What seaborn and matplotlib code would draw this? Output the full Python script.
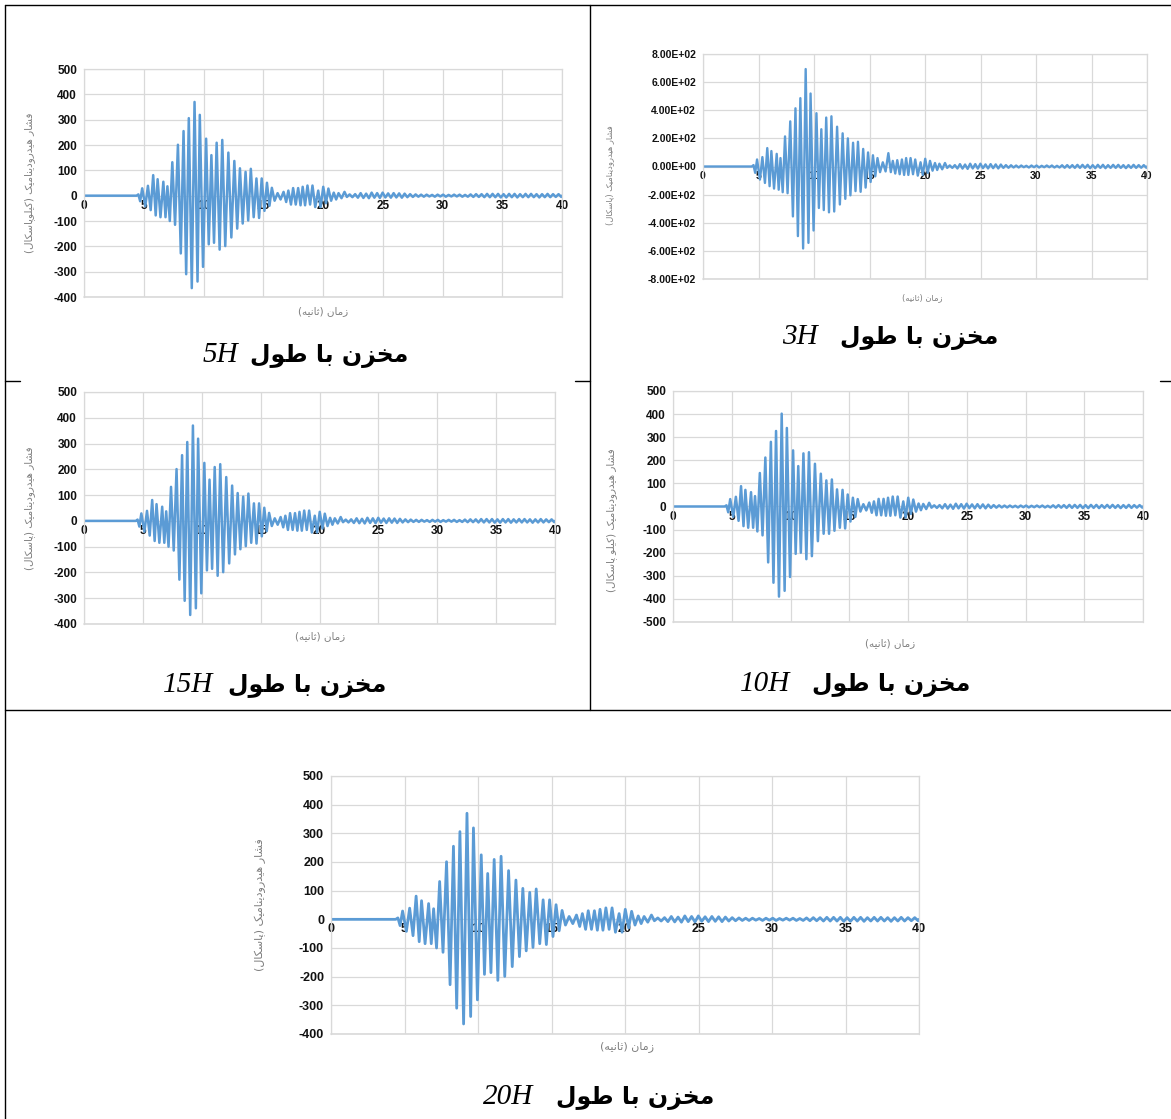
import matplotlib
matplotlib.use("Agg")
import matplotlib.pyplot as plt
from matplotlib.lines import Line2D
import seaborn as sns

W, H = 1171, 1119

# time of each extremum (s), shared by all tanks
t_main = [0.00, 4.40, 4.55, 4.70, 4.87, 5.13, 5.35, 5.58, 5.79, 6.00,
          6.16, 6.40, 6.64, 6.82, 6.98, 7.18, 7.39, 7.62, 7.86, 8.10,
          8.33, 8.55, 8.77, 9.02, 9.25, 9.50, 9.69, 9.96, 10.22, 10.44,
          10.66, 10.88, 11.10, 11.35, 11.57, 11.82, 12.08, 12.33, 12.58, 12.82,
          13.05, 13.28, 13.52, 13.74, 13.96, 14.20, 14.43, 14.65, 14.87, 15.10,
          15.31, 15.52, 15.72, 15.95, 16.20, 16.45, 16.70, 16.92, 17.10, 17.32,
          17.50, 17.72, 17.92, 18.12, 18.30, 18.50, 18.70, 18.92, 19.12, 19.35,
          19.60, 19.80, 20.02, 20.25, 20.45, 20.68, 20.90, 21.10, 21.30, 21.55,
          21.80, 22.00]
t_tail = [22.23, 22.46, 22.69, 22.92, 23.15, 23.38, 23.61, 23.84, 24.07, 24.30, 24.53, 24.76, 24.99,
          25.22, 25.45, 25.68, 25.91, 26.14, 26.37, 26.60, 26.83, 27.06, 27.29, 27.52, 27.75, 27.98,
          28.21, 28.44, 28.67, 28.90, 29.13, 29.36, 29.59, 29.82, 30.05, 30.28, 30.51, 30.74, 30.97,
          31.20, 31.43, 31.66, 31.89, 32.12, 32.35, 32.58, 32.81, 33.04, 33.27, 33.50, 33.73, 33.96,
          34.19, 34.42, 34.65, 34.88, 35.11, 35.34, 35.57, 35.80, 36.03, 36.26, 36.49, 36.72, 36.95,
          37.18, 37.41, 37.64, 37.87, 38.10, 38.33, 38.56, 38.79, 39.02, 39.25, 39.48, 39.71, 39.94,
          40.00]

# pressure at the extrema
main_5h = [0, 0, 5, -22, 29, -42, 39, -57, 81, -78,
           65, -85, 55, -85, 37, -100, 132, -115, 201, -228,
           255, -310, 306, -365, 370, -339, 319, -281, 225, -192,
           160, -186, 209, -213, 220, -199, 170, -165, 137, -130,
           108, -110, 94, -98, 106, -85, 68, -88, 68, -60,
           51, -40, 31, -20, 10, -15, 15, -25, 20, -35,
           30, -35, 30, -38, 35, -38, 40, -35, 40, -45,
           20, -45, 35, -30, 28, -20, 12, -15, 10, -10,
           15, -5]
main_10h = [0, 0, 5, -25, 32, -45, 42, -62, 88, -85,
            72, -92, 62, -92, 45, -108, 145, -125, 212, -242,
            280, -330, 327, -390, 402, -365, 340, -305, 243, -205,
            175, -200, 230, -228, 235, -215, 185, -150, 142, -118,
            113, -118, 117, -105, 74, -92, 72, -95, 52, -65,
            38, -45, 32, -22, 10, -17, 17, -27, 22, -38,
            33, -38, 33, -40, 38, -40, 43, -38, 43, -48,
            22, -48, 38, -32, 30, -22, 13, -16, 11, -11,
            16, -5]
main_3h = [0, 0, 10, -45, 50, -93, 67, -117, 131, -140,
           110, -157, 90, -165, 60, -183, 214, -190, 321, -355,
           414, -495, 486, -583, 693, -543, 519, -455, 379, -295,
           265, -310, 348, -326, 357, -320, 283, -270, 236, -230,
           200, -205, 169, -175, 176, -180, 125, -150, 100, -110,
           80, -70, 60, -40, 30, -35, 95, -40, 40, -50,
           45, -55, 50, -60, 60, -60, 60, -55, 50, -65,
           30, -60, 55, -45, 40, -30, 25, -25, 20, -20,
           25, -10]
tail_kpa = [5, -6, 6, -8, 10, -9, 8, -10, 12, -8, 10, -9, 12,
            -7, 9, -8, 10, -7, 9, -8, 8, -6, 6, -5, 5, -4,
            4, -4, 4, -3, 3, -4, 4, -3, 4, -4, 3, -3, 4,
            -3, 4, -4, 3, -4, 5, -5, 6, -5, 6, -6, 7, -6,
            7, -6, 7, -7, 6, -7, 7, -6, 7, -7, 6, -6, 7,
            -6, 7, -6, 6, -7, 6, -6, 7, -6, 6, -5, 6, -5,
            0]
tail_3h = [8, -10, 10, -14, 17, -15, 14, -17, 20, -14, 17, -15, 20,
           -12, 15, -14, 17, -12, 15, -14, 14, -10, 10, -9, 9, -7,
           7, -7, 7, -5, 5, -7, 7, -5, 7, -7, 5, -5, 7,
           -5, 7, -7, 5, -7, 9, -9, 10, -9, 10, -10, 12, -10,
           12, -10, 12, -12, 10, -12, 12, -10, 12, -12, 10, -10, 12,
           -10, 12, -10, 10, -12, 10, -10, 12, -10, 10, -9, 10, -9,
           0]

x_ticks = [0, 5, 10, 15, 20, 25, 30, 35, 40]

ylab_base = "فشار هیدرودینامیک "
xlab_text = "زمان (ثانیه)"
title_text = "مخزن با طول"

# Persian letters -> (isolated, final, initial, medial) presentation forms
FA_FORMS = {
    "ا": ("\uFE8D", "\uFE8E", None, None),
    "ب": ("\uFE8F", "\uFE90", "\uFE91", "\uFE92"),
    "پ": ("\uFB56", "\uFB57", "\uFB58", "\uFB59"),
    "ث": ("\uFE99", "\uFE9A", "\uFE9B", "\uFE9C"),
    "خ": ("\uFEA5", "\uFEA6", "\uFEA7", "\uFEA8"),
    "د": ("\uFEA9", "\uFEAA", None, None),
    "ر": ("\uFEAD", "\uFEAE", None, None),
    "ز": ("\uFEAF", "\uFEB0", None, None),
    "س": ("\uFEB1", "\uFEB2", "\uFEB3", "\uFEB4"),
    "ش": ("\uFEB5", "\uFEB6", "\uFEB7", "\uFEB8"),
    "ط": ("\uFEC1", "\uFEC2", "\uFEC3", "\uFEC4"),
    "ف": ("\uFED1", "\uFED2", "\uFED3", "\uFED4"),
    "ک": ("\uFB8E", "\uFB8F", "\uFB90", "\uFB91"),
    "ل": ("\uFEDD", "\uFEDE", "\uFEDF", "\uFEE0"),
    "م": ("\uFEE1", "\uFEE2", "\uFEE3", "\uFEE4"),
    "ن": ("\uFEE5", "\uFEE6", "\uFEE7", "\uFEE8"),
    "ه": ("\uFEE9", "\uFEEA", "\uFEEB", "\uFEEC"),
    "و": ("\uFEED", "\uFEEE", None, None),
    "ی": ("\uFBFC", "\uFBFD", "\uFBFE", "\uFBFF"),
}


def fa(text):
    # join letters and lay them out right-to-left, matplotlib does no shaping
    out = []
    for i, c in enumerate(text):
        if c not in FA_FORMS:
            out.append(c)
            continue
        prev = text[i - 1] if i > 0 else ""
        nxt = text[i + 1] if i + 1 < len(text) else ""
        iso, fin, ini, med = FA_FORMS[c]
        j_prev = prev in FA_FORMS and FA_FORMS[prev][2] is not None
        j_next = nxt in FA_FORMS and ini is not None
        if j_prev and j_next:
            out.append(med)
        elif j_prev:
            out.append(fin)
        elif j_next:
            out.append(ini)
        else:
            out.append(iso)
    return "".join(out)[::-1].translate(str.maketrans("()", ")("))


sns.set_style("white")
plt.rcParams["font.family"] = ["DejaVu Sans"]
plt.rcParams["text.color"] = "black"

fig = plt.figure(figsize=(W / 100, H / 100), dpi=100)


def px_text(x, y, s, **kw):
    fig.text(x / W, 1 - y / H, s, **kw)


panels = [
    dict(tag="5H", box=(84, 69, 562, 297), vals=main_5h + tail_kpa, ylim=(-400, 500), step=100,
         sci=False, unit="(کیلوپاسکال)", ylab=(30, 183), xlab=(323, 311), title=(238, 250, 355),
         fs=8.5, xfs=8.5, lfs=7.5, lw=1.8),
    dict(tag="3H", box=(703, 54, 1147, 279), vals=main_3h + tail_3h, ylim=(-800, 800), step=200,
         sci=True, unit="(پاسکال)", ylab=(610, 175), xlab=(922, 298), title=(818, 840, 337),
         fs=7.5, xfs=7.5, lfs=6, lw=1.7),
    dict(tag="15H", box=(84, 392, 555, 624), vals=main_5h + tail_kpa, ylim=(-400, 500), step=100,
         sci=False, unit="(پاسکال)", ylab=(30, 508), xlab=(320, 636), title=(213, 228, 685),
         fs=8.5, xfs=8.5, lfs=7.5, lw=1.8),
    dict(tag="10H", box=(673, 391, 1143, 622), vals=main_10h + tail_kpa, ylim=(-500, 500), step=100,
         sci=False, unit="(کیلو پاسکال)", ylab=(612, 520), xlab=(890, 643), title=(790, 812, 684),
         fs=8.5, xfs=8.5, lfs=7.5, lw=1.8),
    dict(tag="20H", box=(331, 776, 919, 1034), vals=main_5h + tail_kpa, ylim=(-400, 500), step=100,
         sci=False, unit="(پاسکال)", ylab=(260, 905), xlab=(627, 1047), title=(533, 556, 1097),
         fs=9, xfs=9, lfs=8, lw=2.0),
]

grid_c = "#d9d9d9"
line_c = "#5b9bd5"
label_c = "#7f7f7f"

for p in panels:
    x0, y0, x1, y1 = p["box"]
    ax = fig.add_axes([x0 / W, 1 - y1 / H, (x1 - x0) / W, (y1 - y0) / H])
    t_all = t_main + t_tail
    n = min(len(t_all), len(p["vals"]))
    sns.lineplot(x=t_all[:n], y=p["vals"][:n], ax=ax, color=line_c, linewidth=p["lw"],
                 sort=False, estimator=None)
    lo, hi = p["ylim"]
    ax.set_xlim(0, 40)
    ax.set_ylim(lo, hi)
    yt = list(range(lo, hi + 1, p["step"]))
    ax.set_yticks(yt)
    if p["sci"]:
        ax.set_yticklabels([f"{v:.2E}" for v in yt])
    else:
        ax.set_yticklabels([str(v) for v in yt])
    ax.set_xticks(x_ticks)
    ax.grid(True, color=grid_c, linewidth=0.9)
    ax.set_axisbelow(True)
    for s in ["top", "left", "right"]:
        ax.spines[s].set_color(grid_c)
        ax.spines[s].set_linewidth(0.9)
    ax.spines["bottom"].set_position(("data", 0))
    ax.spines["bottom"].set_visible(False)
    ax.axhline(lo, color=grid_c, linewidth=1.2, clip_on=False, zorder=0)
    ax.tick_params(length=0, labelcolor="#111111")
    ax.tick_params(axis="x", pad=3, labelsize=p["xfs"])
    ax.tick_params(axis="y", pad=5, labelsize=p["fs"])
    for lab in ax.get_xticklabels() + ax.get_yticklabels():
        lab.set_fontweight("bold")
        lab.set_family("Liberation Sans")
    ax.set_xlabel("")
    ax.set_ylabel("")

    px_text(p["ylab"][0], p["ylab"][1], fa(ylab_base + p["unit"]), rotation=90,
            ha="center", va="center", fontsize=p["lfs"], color=label_c)
    px_text(p["xlab"][0], p["xlab"][1], fa(xlab_text), ha="center", va="center",
            fontsize=p["lfs"], color=label_c)
    nx, fx, ty = p["title"]
    px_text(nx, ty, p["tag"], ha="right", va="center", fontsize=21,
            family="Liberation Serif", style="italic", color="black")
    px_text(fx, ty + 1, fa(title_text), ha="left", va="center", fontsize=17,
            fontweight="bold", color="black")

# table borders
def hline(y, xa, xb):
    fig.add_artist(Line2D([xa / W, xb / W], [1 - y / H, 1 - y / H], color="black", linewidth=1))


def vline(x, ya, yb):
    fig.add_artist(Line2D([x / W, x / W], [1 - ya / H, 1 - yb / H], color="black", linewidth=1))


hline(5, 5, W)
vline(5, 5, H)
vline(590, 5, 710)
hline(381, 5, 20)
hline(381, 575, 590)
hline(381, 1160, W)
hline(710, 5, W)

fig.savefig("out.png", dpi=100)
